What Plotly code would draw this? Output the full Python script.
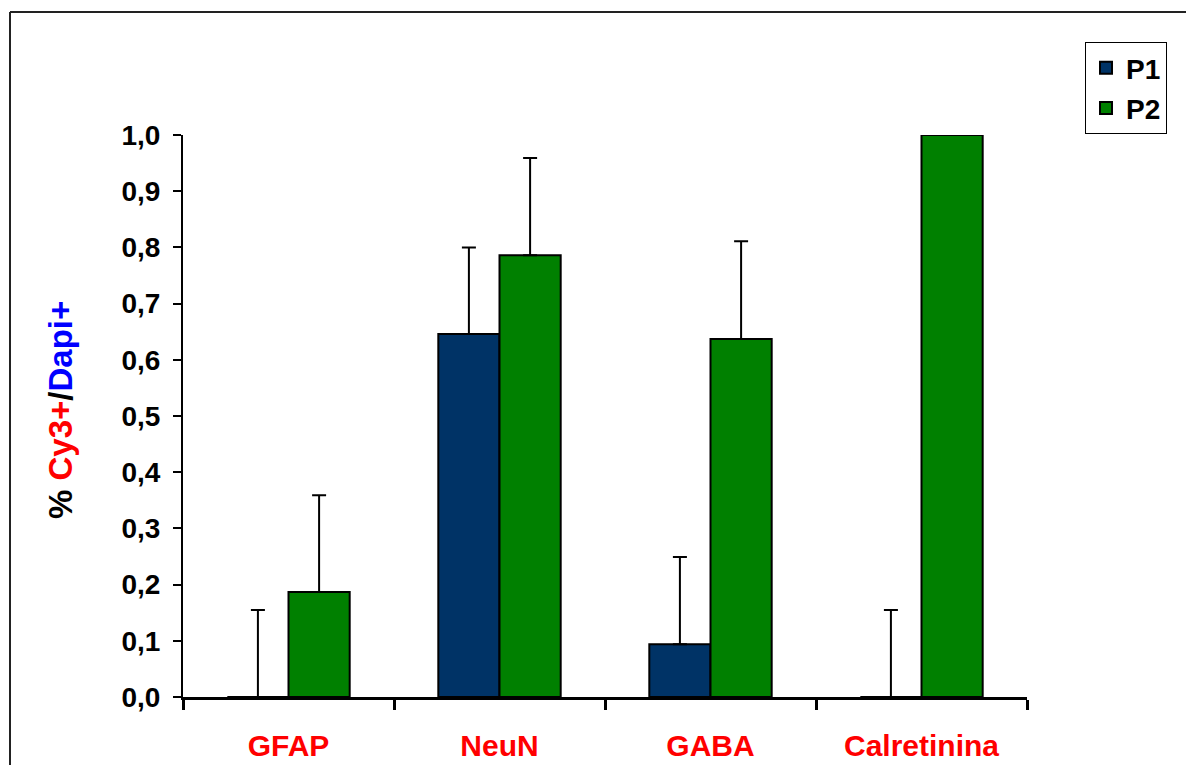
import plotly.graph_objects as go

# Marker categories and group means / upper error for the two time points
categories = ["GFAP", "NeuN", "GABA", "Calretinina"]
p1_values = [0.0, 0.646, 0.094, 0.0]
p1_errors = [0.155, 0.154, 0.155, 0.155]
p2_values = [0.187, 0.786, 0.637, 1.0]
p2_errors = [0.172, 0.173, 0.174, 0.005]
y_ticks = [0.0, 0.1, 0.2, 0.3, 0.4, 0.5, 0.6, 0.7, 0.8, 0.9, 1.0]

W, H = 1186, 765
L, R, T, B = 183, 159, 135, 68
pw, ph = W - L - R, H - T - B


def px_x(x):
    return (x - L) / pw


def px_y(y):
    return (H - B - y) / ph


FONT = "Liberation Sans, Arial, sans-serif"

fig = go.Figure()
fig.add_trace(go.Bar(
    name="P1", x=categories, y=p1_values, legendgroup="a",
    marker=dict(color="#003366", line=dict(color="black", width=2)),
    error_y=dict(type="data", symmetric=False, array=p1_errors,
                 arrayminus=[0] * len(p1_errors), color="black",
                 thickness=2, width=7),
))
fig.add_trace(go.Bar(
    name="P2", x=categories, y=p2_values, legendgroup="b",
    marker=dict(color="#008000", line=dict(color="black", width=2)),
    error_y=dict(type="data", symmetric=False, array=p2_errors,
                 arrayminus=[0] * len(p2_errors), color="black",
                 thickness=2, width=7),
))

fig.update_layout(
    width=W, height=H,
    margin=dict(l=L, r=R, t=T, b=B),
    paper_bgcolor="white", plot_bgcolor="white",
    barmode="group", bargap=0.42, bargroupgap=0.0,
    separators=",.",
    font=dict(family=FONT, color="black"),
    legend=dict(
        x=px_x(1085), y=px_y(42), xanchor="left", yanchor="top",
        bordercolor="black", borderwidth=1, bgcolor="white",
        font=dict(size=28, family=FONT, weight="bold"),
        traceorder="grouped", tracegroupgap=1,
        itemwidth=30,
    ),
    xaxis=dict(
        showline=True, linecolor="black", linewidth=3, layer="above traces",
        ticks="outside", tickson="boundaries", ticklen=10, tickwidth=3,
        tickcolor="black", ticklabelstandoff=20, automargin=False,
        tickfont=dict(size=30, color="#ff0000", family=FONT, weight="bold"),
        showgrid=False, zeroline=False,
    ),
    yaxis=dict(
        range=[0, 1.0], showline=True, linecolor="black", linewidth=2,
        ticks="outside", ticklen=8, tickwidth=2, tickcolor="black",
        tickvals=y_ticks, tickformat=".1f", ticklabelstandoff=7,
        automargin=False,
        tickfont=dict(size=28, color="black", family=FONT, weight="bold"),
        showgrid=False, zeroline=False,
    ),
    shapes=[
        dict(type="line", xref="paper", yref="paper",
             x0=px_x(10), x1=px_x(1200), y0=px_y(12), y1=px_y(12),
             line=dict(color="#222222", width=2)),
        dict(type="line", xref="paper", yref="paper",
             x0=px_x(10), x1=px_x(10), y0=px_y(12), y1=px_y(780),
             line=dict(color="#222222", width=2)),
    ],
    annotations=[
        dict(
            xref="paper", yref="paper", x=px_x(60), y=px_y(410),
            xanchor="center", yanchor="middle", textangle=-90,
            showarrow=False,
            font=dict(size=33, family=FONT, weight="bold", color="black"),
            text="% <span style='color:#ff0000'>Cy3+</span>/"
                 "<span style='color:#0000ff'>Dapi+</span>",
        )
    ],
)

fig.write_html("out.html")
